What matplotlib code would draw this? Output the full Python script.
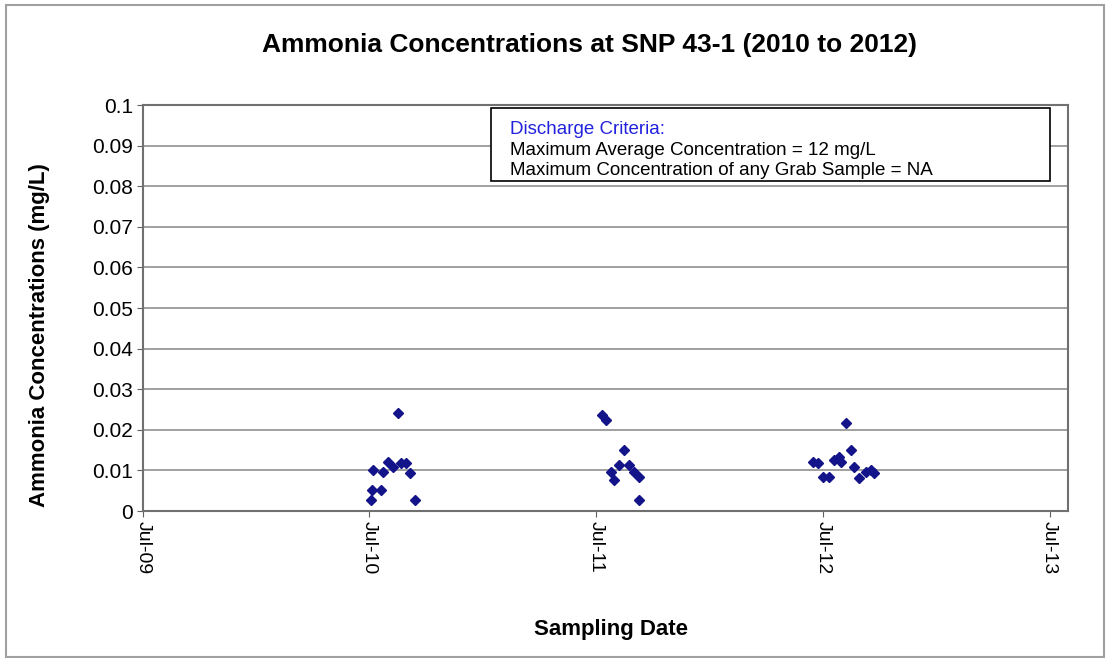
import pandas as pd
import numpy as np
import matplotlib
matplotlib.use('Agg')
from matplotlib import pyplot as plt
import matplotlib.dates as mdates
from matplotlib.patches import Rectangle

# Sampling dates and ammonia values (mg/L)
dates_2010 = ['2010-07-04', '2010-07-05', '2010-07-07', '2010-07-19', '2010-07-23', '2010-07-31',
              '2010-08-08', '2010-08-16', '2010-08-21', '2010-08-29', '2010-09-04', '2010-09-13']
vals_2010 = [0.0027, 0.0052, 0.0101, 0.0052, 0.0096, 0.0120,
             0.0108, 0.0241, 0.0118, 0.0118, 0.0094, 0.0027]

dates_2011 = ['2011-07-11', '2011-07-17', '2011-07-25', '2011-07-30', '2011-08-07',
              '2011-08-15', '2011-08-23', '2011-08-31', '2011-09-08', '2011-09-09']
vals_2011 = [0.0236, 0.0224, 0.0096, 0.0076, 0.0113,
             0.0150, 0.0113, 0.0096, 0.0084, 0.0027]

dates_2012 = ['2012-06-15', '2012-06-23', '2012-07-01', '2012-07-11', '2012-07-19', '2012-07-27',
              '2012-07-30', '2012-08-07', '2012-08-15', '2012-08-20', '2012-08-28', '2012-09-08',
              '2012-09-16', '2012-09-21']
vals_2012 = [0.0120, 0.0118, 0.0084, 0.0084, 0.0126, 0.0133,
             0.0120, 0.0217, 0.0150, 0.0108, 0.0081, 0.0096,
             0.0101, 0.0094]

tick_dates = ['2009-07-01', '2010-07-01', '2011-07-01', '2012-07-01', '2013-07-01']
y_ticks = [0, 0.01, 0.02, 0.03, 0.04, 0.05, 0.06, 0.07, 0.08, 0.09, 0.1]
y_labels = ['0', '0.01', '0.02', '0.03', '0.04', '0.05', '0.06', '0.07', '0.08', '0.09', '0.1']

plt.rcParams['font.family'] = ['Liberation Sans', 'DejaVu Sans']

fig = plt.figure(figsize=(11.1, 6.58), dpi=100)
# outer gray frame like the exported chart
fig.patches.append(Rectangle((0.005, 0.002), 0.99, 0.99, transform=fig.transFigure,
                             fill=False, edgecolor='#a0a0a0', linewidth=1.5))

ax = fig.add_axes([0.1288, 0.2234, 0.833, 0.617])

df = pd.DataFrame({'date': pd.to_datetime(dates_2010 + dates_2011 + dates_2012),
                   'value': vals_2010 + vals_2011 + vals_2012})
ax.plot(df.date, df.value, linestyle='none', marker='D', markersize=5.5,
        color='#14148a', markeredgecolor='#14148a', zorder=3)

ax.set_xlim(pd.Timestamp('2009-07-01'), pd.Timestamp('2013-07-30'))
ax.set_ylim(0, 0.1)
ax.set_yticks(y_ticks)
ax.set_yticklabels(y_labels, fontsize=15)
ax.set_xticks(pd.to_datetime(tick_dates))
ax.xaxis.set_major_formatter(mdates.DateFormatter('%b-%y'))
plt.setp(ax.get_xticklabels(), rotation=270, fontsize=14, va='top', ha='center')
ax.tick_params(axis='both', direction='out', length=4, color='#606060', pad=3)

ax.yaxis.grid(True, color='#909090', linewidth=1.2)
ax.set_axisbelow(True)
for sp in ax.spines.values():
    sp.set_color('#707070')
    sp.set_linewidth(1.5)

fig.text(590 / 1110, 1 - 45 / 658, 'Ammonia Concentrations at SNP 43-1 (2010 to 2012)',
         fontsize=19, fontweight='bold', ha='center', va='center')
fig.text(40 / 1110, 1 - 335 / 658, 'Ammonia Concentrations (mg/L)', fontsize=16,
         fontweight='bold', rotation=90, ha='center', va='center')
fig.text(611 / 1110, 1 - 630 / 658, 'Sampling Date', fontsize=16,
         fontweight='bold', ha='center', va='center')

# discharge criteria box
ax.add_patch(Rectangle((0.376, 0.814), 0.605, 0.179, transform=ax.transAxes,
                       facecolor='white', edgecolor='black', linewidth=1.2, zorder=4))
ax.text(0.397, 0.940, 'Discharge Criteria:', transform=ax.transAxes, fontsize=13.5,
        color='#2222dd', va='center', zorder=5)
ax.text(0.397, 0.889, 'Maximum Average Concentration = 12 mg/L', transform=ax.transAxes,
        fontsize=13.5, color='black', va='center', zorder=5)
ax.text(0.397, 0.838, 'Maximum Concentration of any Grab Sample = NA', transform=ax.transAxes,
        fontsize=13.5, color='black', va='center', zorder=5)

plt.savefig('out.png', dpi=100)
